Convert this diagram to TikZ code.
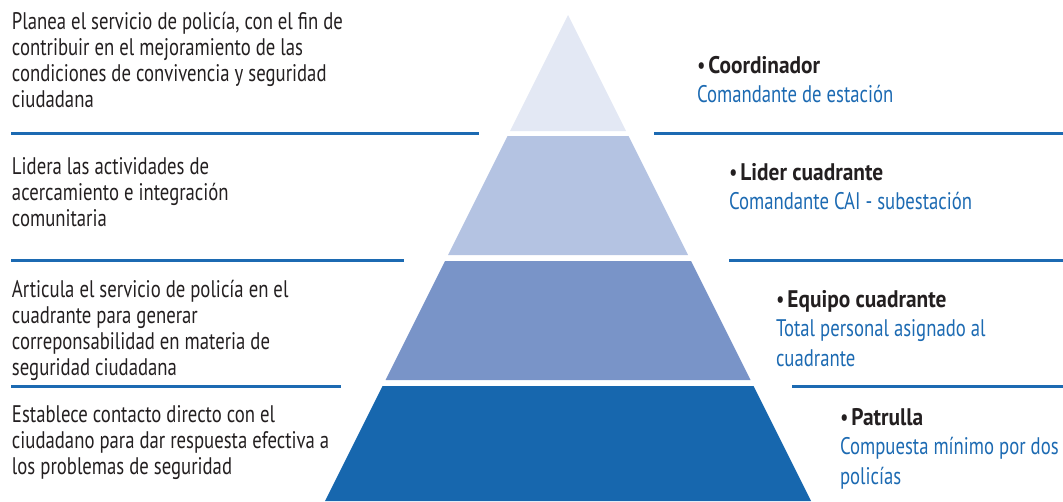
\documentclass[tikz,border=0pt]{standalone}
\usepackage{fontspec}
\setmainfont{PT Sans}[FakeStretch=0.78,BoldFeatures={FakeStretch=0.89}]
\definecolor{txt}{HTML}{231F20}
\definecolor{blu}{HTML}{1C6AB2}
\definecolor{layA}{HTML}{E3E8F4}
\definecolor{layB}{HTML}{B4C3E2}
\definecolor{layC}{HTML}{7994C8}
\definecolor{layD}{HTML}{1767AE}
\newcommand{\lblock}[1]{\parbox[t]{420pt}{\leavevmode\fontsize{24}{26}\selectfont\raggedright #1}}
\newcommand{\rblock}[2]{\parbox[t]{300pt}{\leavevmode\fontsize{24}{29.5}\selectfont\raggedright{\color{txt}\textbullet\hspace{3pt}\textbf{#1}}\\#2}}
\begin{document}
\begin{tikzpicture}[x=1pt,y=-1pt,
  sep/.style={draw=blu,line width=3pt},
  lefttext/.style={anchor=base west,inner sep=0pt,outer sep=0pt,text=txt},
  righttext/.style={anchor=base west,inner sep=0pt,outer sep=0pt,text=blu}]
\useasboundingbox (0,0) rectangle (1063,501);
% pyramid layers
\fill[layA] (568,15) -- (626,131) -- (510,131) -- cycle;
\fill[layB] (507.5,136) -- (628.5,136) -- (688,255) -- (448,255) -- cycle;
\fill[layC] (445,261) -- (691,261) -- (750.5,380) -- (385.5,380) -- cycle;
\fill[layD] (382.5,386) -- (753.5,386) -- (811,501) -- (325,501) -- cycle;
% separator lines
\draw[sep] (11,133) -- (479,133);
\draw[sep] (654,133) -- (1063,133);
\draw[sep] (11,260) -- (404,260);
\draw[sep] (729,260) -- (1063,260);
\draw[sep] (11,386) -- (341,386);
\draw[sep] (792,386) -- (1063,386);
% left texts
\node[lefttext] (l1) at (12,29) {\lblock{Planea el servicio de policía, con el fin de\\contribuir en el mejoramiento de las\\condiciones de convivencia y seguridad\\ciudadana}};
\node[lefttext] (l2) at (12,174) {\lblock{Lidera las actividades de\\acercamiento e integración\\comunitaria}};
\node[lefttext] (l3) at (12,297) {\lblock{Articula el servicio de policía en el\\cuadrante para generar\\correponsabilidad en materia de\\seguridad ciudadana}};
\node[lefttext] (l4) at (12,422) {\lblock{Establece contacto directo con el\\ciudadano para dar respuesta efectiva a\\los problemas de seguridad}};
% right texts
\node[righttext] (r1) at (697,73) {\rblock{Coordinador}{Comandante de estación}};
\node[righttext] (r2) at (729,180) {\rblock{Lider cuadrante}{Comandante CAI - subestación}};
\node[righttext] (r3) at (776,307) {\rblock{Equipo cuadrante}{Total personal asignado al\\cuadrante}};
\node[righttext] (r4) at (840,425) {\rblock{Patrulla}{Compuesta mínimo por dos\\policías}};
\end{tikzpicture}
\end{document}
